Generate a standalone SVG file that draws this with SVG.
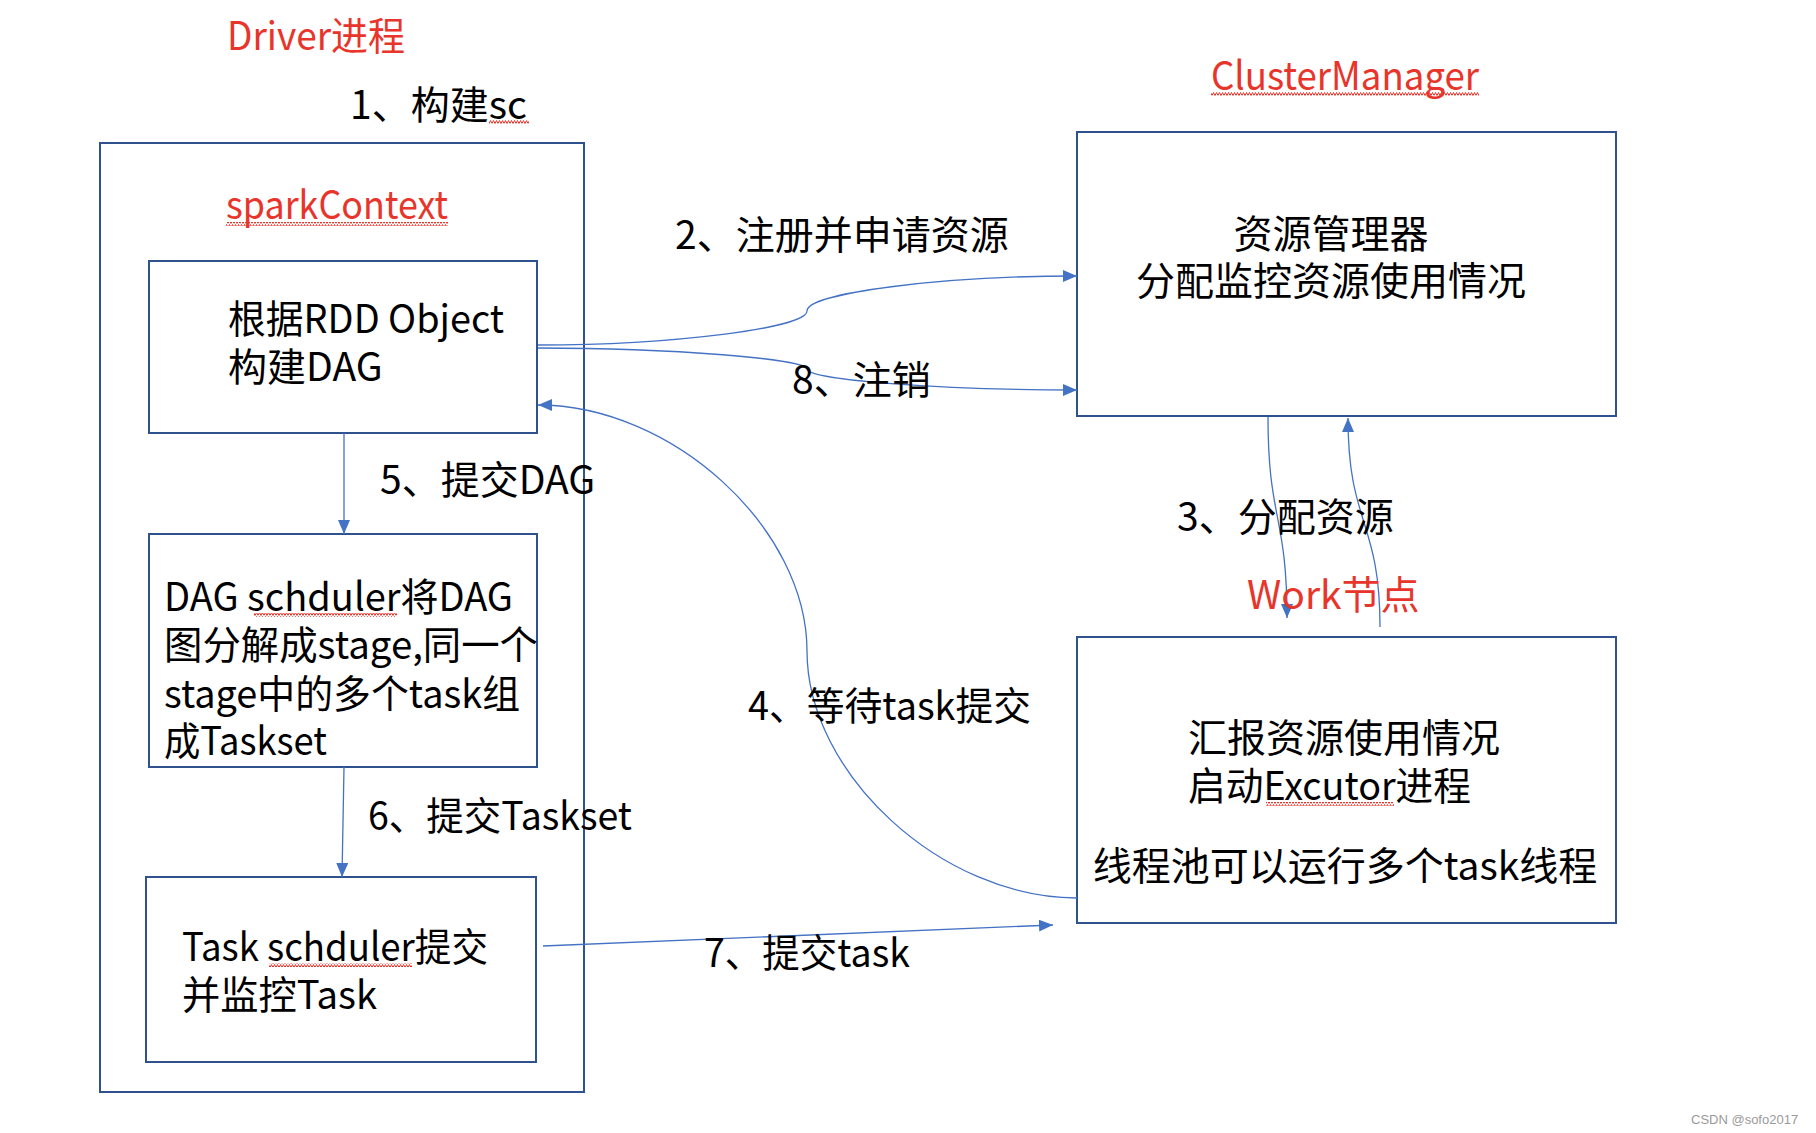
<svg xmlns="http://www.w3.org/2000/svg" width="1816" height="1133" viewBox="0 0 1816 1133">
<style>
.box{fill:#ffffff;stroke:#2F528F;stroke-width:2}
.t{font-family:"Noto Sans CJK SC","Noto Sans",sans-serif;font-size:39px;fill:#000}
.r{font-family:"Noto Sans CJK SC","Noto Sans",sans-serif;font-size:39px;fill:#E8352B}
.c{fill:none;stroke:#4472C4;stroke-width:1.3}
.wm{font-family:"Liberation Sans",Arial,sans-serif;font-size:13px;fill:#9a9a9a}
.sq{fill:url(#squig)}
</style>
<defs>
<marker id="ah" markerUnits="userSpaceOnUse" markerWidth="14" markerHeight="12" refX="14" refY="6" orient="auto">
<path d="M0,0 L14,6 L0,12 z" fill="#4472C4"/>
</marker>
<pattern id="squig" patternUnits="userSpaceOnUse" width="6" height="4">
<polyline points="0,3.5 1.5,0.5 3,3.5 4.5,0.5 6,3.5" fill="none" stroke="#E8352B" stroke-width="1"/>
</pattern>
</defs>
<rect width="1816" height="1133" fill="#ffffff"/>

<g id="labels-top">
<text class="r" x="227" y="50" textLength="178" lengthAdjust="spacingAndGlyphs">Driver进程</text>
<text class="t" x="350" y="119">1、构建sc</text>
<rect class="sq" x="489" y="120" width="40" height="4"/>
<text class="r" x="1211" y="90" textLength="268" lengthAdjust="spacingAndGlyphs">ClusterManager</text>
<rect class="sq" x="1211" y="92" width="268" height="4"/>
</g>

<g id="driver">
<rect class="box" x="100" y="143" width="484" height="949"/>
<text class="r" x="226" y="219" textLength="222" lengthAdjust="spacingAndGlyphs">sparkContext</text>
<rect class="sq" x="226" y="222" width="222" height="4"/>
</g>

<g id="node-rdd">
<rect class="box" x="149" y="261" width="388" height="172"/>
<text class="t" x="228" y="333" textLength="276" lengthAdjust="spacingAndGlyphs">根据RDD Object</text>
<text class="t" x="228" y="381">构建DAG</text>
</g>

<g id="node-dag">
<rect class="box" x="149" y="534" width="388" height="233"/>
<text class="t" x="164" y="611" textLength="349" lengthAdjust="spacingAndGlyphs">DAG schduler将DAG</text>
<rect class="sq" x="254" y="613" width="143" height="4"/>
<text class="t" x="164" y="659" textLength="374" lengthAdjust="spacingAndGlyphs">图分解成stage,同一个</text>
<text class="t" x="164" y="708" textLength="356" lengthAdjust="spacingAndGlyphs">stage中的多个task组</text>
<text class="t" x="164" y="755" textLength="163" lengthAdjust="spacingAndGlyphs">成Taskset</text>
</g>

<g id="node-task">
<rect class="box" x="146" y="877" width="390" height="185"/>
<text class="t" x="182" y="961" textLength="306" lengthAdjust="spacingAndGlyphs">Task schduler提交</text>
<rect class="sq" x="269" y="963" width="143" height="4"/>
<text class="t" x="182" y="1009" textLength="195" lengthAdjust="spacingAndGlyphs">并监控Task</text>
</g>

<g id="node-cluster">
<rect class="box" x="1077" y="132" width="539" height="284"/>
<text class="t" x="1331" y="248" text-anchor="middle">资源管理器</text>
<text class="t" x="1331" y="295" text-anchor="middle">分配监控资源使用情况</text>
</g>

<g id="node-work">
<rect class="box" x="1077" y="637" width="539" height="286"/>
<text class="t" x="1188" y="752">汇报资源使用情况</text>
<text class="t" x="1188" y="800" textLength="283" lengthAdjust="spacingAndGlyphs">启动Excutor进程</text>
<rect class="sq" x="1266" y="802" width="128" height="4"/>
<text class="t" x="1345" y="880" text-anchor="middle">线程池可以运行多个task线程</text>
</g>

<g id="connectors">
<path class="c" marker-end="url(#ah)" d="M538,345 C672,345 807,328 807,311 C807,293 942,276 1077,276"/>
<path class="c" marker-end="url(#ah)" d="M538,348 C672,348 807,359 807,369 C807,380 942,390 1077,390"/>
<path class="c" marker-end="url(#ah)" d="M1077,898 C942,898 807,774 807,651 C807,528 672,405 538,405"/>
<path class="c" marker-end="url(#ah)" d="M344,433 L344,534"/>
<path class="c" marker-end="url(#ah)" d="M344,767 L342,877"/>
<path class="c" marker-end="url(#ah)" d="M1268,417 C1268,520 1287,515 1287,618"/>
<path class="c" marker-end="url(#ah)" d="M1380,627 C1380,520 1348,525 1348,418"/>
<path class="c" marker-end="url(#ah)" d="M543,946 L1053,925"/>
</g>

<g id="connector-labels">
<text class="t" x="675" y="249">2、注册并申请资源</text>
<text class="t" x="792" y="394">8、注销</text>
<text class="t" x="380" y="494">5、提交DAG</text>
<text class="t" x="1177" y="531">3、分配资源</text>
<text class="r" x="1247" y="609">Work节点</text>
<text class="t" x="748" y="720" textLength="283" lengthAdjust="spacingAndGlyphs">4、等待task提交</text>
<text class="t" x="368" y="830" textLength="264" lengthAdjust="spacingAndGlyphs">6、提交Taskset</text>
<text class="t" x="704" y="967" textLength="206" lengthAdjust="spacingAndGlyphs">7、提交task</text>
</g>

<text class="wm" x="1691" y="1124">CSDN @sofo2017</text>
</svg>
